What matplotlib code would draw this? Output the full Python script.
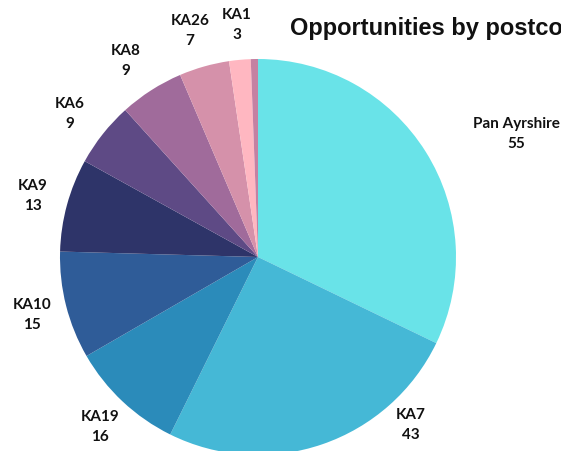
import matplotlib
matplotlib.use("Agg")
import matplotlib.pyplot as plt

# data
labels = ["Pan Ayrshire", "KA7", "KA19", "KA10", "KA9", "KA6", "KA8", "KA26", "KA1", ""]
values = [55, 43, 16, 15, 13, 9, 9, 7, 3, 1]
colors = ["#69e3e8", "#45b8d6", "#2b8bba", "#2f5c98", "#2e3469",
          "#5e4a85", "#a06b9b", "#d591aa", "#ffb7c1", "#c481a2"]

# label centres in pixels (from top-left)
label_pos = [(516, 134), (411, 425), (100, 427), (32, 315), (33, 196),
             (70, 114), (126, 61), (190, 31), (237, 25), None]

W, H = 561, 452
fig = plt.figure(figsize=(W / 100, H / 100), dpi=100)
ax = fig.add_axes([0, 0, 1, 1])

ax.pie(
    values,
    colors=colors,
    startangle=90,
    counterclock=False,
    center=(258, H - 258),
    radius=198,
    wedgeprops=dict(linewidth=0),
    frame=True,
)
ax.set_xlim(0, W)
ax.set_ylim(0, H)
ax.axis("off")

for lab, val, pos in zip(labels, values, label_pos):
    if pos is None:
        continue
    ax.text(pos[0], H - pos[1], f"{lab}\n{val}", ha="center", va="center",
            fontsize=11, fontweight="bold", family="Lato",
            linespacing=1.5, color="#111111")

# title is cut off at the right edge, as in the original
fig.text(290 / W, 1 - 28 / H, "Opportunities by postcode", ha="left", va="center",
         fontsize=17, fontweight="bold", family="Liberation Sans", color="#111111")

fig.savefig("out.png", dpi=100)
